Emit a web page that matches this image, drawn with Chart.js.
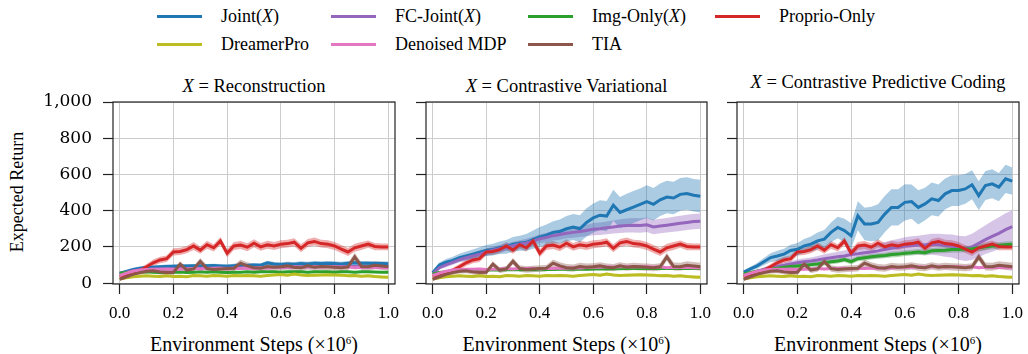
<!DOCTYPE html>
<html>
<head>
<meta charset="utf-8">
<script src="https://cdn.jsdelivr.net/npm/chart.js@4.4.1/dist/chart.umd.min.js"></script>
<style>
  html, body { margin: 0; padding: 0; background: #fff; }
  #fig { position: relative; width: 1028px; height: 354px; overflow: hidden;
         font-family: 'Liberation Serif', 'Times New Roman', Times, 'Nimbus Roman', 'DejaVu Serif', serif; color: #000; }
  #fig canvas { position: absolute; left: 0; top: 0; }
  .txt { position: absolute; white-space: nowrap; line-height: 1; transform: translate(-50%, -50%); }
  .leg-line { position: absolute; height: 3px; width: 45px; }
  .leg-txt { position: absolute; white-space: nowrap; line-height: 1; font-size: 18px; transform: translateY(-50%); }
  sup { font-size: 11px; vertical-align: 7px; line-height: 0; }
</style>
</head>
<body>
<div id="fig"></div>
<script>
// Three panels of expected return vs environment steps, one per representation X.
// Proprio-Only, DreamerPro, Denoised MDP and TIA are baselines, so the same
// curves show up in all three panels.

const SERIF = "'Liberation Serif', 'Times New Roman', Times, 'Nimbus Roman', 'DejaVu Serif', serif";

// ---------- data ----------
const X_STEPS = [0, 0.025, 0.05, 0.075, 0.1, 0.125, 0.15, 0.175, 0.2, 0.225, 0.25, 0.275, 0.3, 0.325,
  0.35, 0.375, 0.4, 0.425, 0.45, 0.475, 0.5, 0.525, 0.55, 0.575, 0.6, 0.625, 0.65, 0.675, 0.7,
  0.725, 0.75, 0.775, 0.8, 0.825, 0.85, 0.875, 0.9, 0.925, 0.95, 0.975, 1.0];
const X_TICKS = [0, 0.2, 0.4, 0.6, 0.8, 1.0];
const Y_TICKS = [0, 200, 400, 600, 800, 1000];

const PANEL_TITLES = ['<i>X</i> = Reconstruction', '<i>X</i> = Contrastive Variational', '<i>X</i> = Contrastive Predictive Coding'];
const X_TITLE = 'Environment Steps (×10<sup>6</sup>)';
const Y_TITLE = 'Expected Return';

// baselines (shared)
const PROPRIO = [35, 45, 55, 70, 90, 112, 128, 135, 172, 175, 185, 205, 182, 212, 195, 232, 165, 205, 210, 198,
  220, 200, 212, 205, 215, 218, 226, 192, 222, 230, 218, 215, 205, 188, 172, 195, 205, 215, 202, 200, 200];
const PROPRIO_SD = [8, 10, 12, 14, 16, 18, 18, 18, 20, 20, 20, 22, 20, 22, 20, 22, 22, 22, 22, 22,
  22, 22, 22, 22, 22, 22, 22, 22, 22, 22, 22, 22, 22, 22, 22, 22, 22, 20, 20, 18, 18];
const DREAMERPRO = [22, 30, 35, 38, 40, 38, 36, 40, 36, 38, 35, 42, 40, 38, 42, 40, 38, 42, 40, 42,
  40, 38, 42, 45, 48, 44, 50, 45, 42, 44, 45, 46, 45, 44, 40, 42, 38, 40, 36, 34, 32];
const DREAMERPRO_SD = [4, 5, 5, 6, 6, 6, 6, 6, 6, 6, 6, 6, 6, 6, 6, 6, 6, 6, 6, 6,
  6, 6, 6, 6, 7, 7, 7, 7, 7, 7, 7, 7, 7, 7, 7, 7, 7, 7, 7, 7, 7];
const DENOISED = [42, 55, 65, 72, 75, 76, 76, 78, 75, 77, 78, 80, 78, 80, 80, 82, 78, 82, 80, 83,
  82, 85, 84, 86, 88, 87, 90, 88, 90, 92, 89, 92, 90, 88, 90, 85, 88, 86, 88, 85, 85];
const DENOISED_SD = [5, 6, 6, 7, 7, 7, 7, 7, 7, 7, 7, 7, 7, 7, 7, 8, 8, 8, 8, 8,
  8, 8, 8, 8, 8, 8, 8, 8, 8, 8, 8, 8, 8, 8, 8, 8, 8, 8, 8, 8, 8];
const TIA = [20, 35, 48, 58, 65, 68, 62, 58, 60, 105, 72, 78, 120, 80, 75, 78, 80, 82, 110, 95,
  85, 82, 92, 88, 90, 95, 88, 85, 95, 88, 92, 90, 88, 85, 90, 145, 92, 90, 98, 95, 90];
const TIA_SD = [6, 8, 10, 12, 12, 14, 14, 14, 14, 16, 16, 16, 18, 18, 18, 18, 18, 18, 20, 20,
  20, 20, 20, 20, 20, 20, 20, 20, 20, 20, 20, 20, 20, 20, 20, 22, 22, 22, 22, 22, 22];

// X = Reconstruction
const JOINT_REC = [55, 65, 75, 82, 86, 88, 90, 92, 93, 94, 95, 96, 95, 96, 97, 95, 93, 96, 98, 97,
  100, 99, 112, 105, 103, 106, 104, 108, 106, 110, 108, 110, 108, 106, 110, 112, 110, 110, 108, 108, 107];
const JOINT_REC_SD = [6, 8, 8, 9, 9, 10, 10, 10, 10, 10, 10, 10, 10, 10, 10, 11, 11, 11, 11, 11,
  11, 11, 12, 12, 12, 12, 12, 12, 12, 12, 12, 12, 12, 12, 12, 12, 12, 12, 12, 12, 12];
const FC_REC = [50, 60, 68, 72, 75, 77, 78, 78, 79, 80, 80, 81, 82, 82, 83, 83, 82, 84, 84, 85,
  85, 86, 86, 87, 88, 88, 89, 89, 90, 90, 91, 91, 92, 92, 92, 92, 92, 92, 92, 92, 92];
const FC_REC_SD = [5, 6, 6, 6, 7, 7, 7, 7, 7, 7, 7, 7, 7, 7, 7, 7, 7, 7, 7, 7,
  8, 8, 8, 8, 8, 8, 8, 8, 8, 8, 8, 8, 8, 8, 8, 8, 8, 8, 8, 8, 8];
const IMG_REC = [55, 58, 60, 60, 62, 60, 58, 60, 60, 61, 58, 60, 62, 60, 62, 60, 58, 60, 60, 62,
  60, 62, 62, 62, 60, 63, 62, 62, 60, 62, 62, 62, 60, 62, 62, 60, 62, 62, 61, 60, 60];
const IMG_REC_SD = [5, 5, 5, 5, 5, 5, 5, 5, 5, 5, 5, 5, 5, 5, 5, 5, 5, 5, 5, 5,
  5, 5, 5, 5, 5, 5, 5, 5, 5, 5, 5, 5, 5, 5, 5, 5, 5, 5, 5, 5, 5];

// X = Contrastive Variational
const JOINT_CV = [57, 100, 115, 125, 140, 150, 160, 170, 180, 185, 195, 200, 215, 220, 225, 240, 255, 265, 280, 285,
  300, 310, 300, 335, 360, 375, 370, 430, 390, 405, 420, 435, 450, 435, 460, 475, 470, 490, 495, 485, 480];
const JOINT_CV_SD = [8, 14, 18, 20, 22, 24, 26, 28, 30, 32, 34, 38, 40, 42, 46, 50, 55, 58, 62, 66,
  70, 72, 75, 78, 80, 82, 84, 86, 86, 88, 88, 88, 90, 90, 90, 90, 90, 90, 90, 90, 90];
const FC_CV = [50, 85, 100, 115, 130, 140, 150, 160, 172, 182, 190, 198, 206, 214, 222, 232, 245, 252, 262, 268,
  275, 280, 285, 290, 298, 300, 305, 310, 315, 318, 320, 318, 322, 310, 315, 320, 325, 330, 335, 340, 342];
const FC_CV_SD = [6, 10, 12, 14, 15, 16, 17, 18, 19, 20, 20, 21, 22, 22, 23, 24, 25, 26, 27, 28,
  28, 30, 30, 32, 34, 34, 35, 36, 38, 38, 40, 40, 40, 40, 40, 40, 42, 42, 42, 42, 42];
const IMG_CV = [50, 58, 62, 65, 68, 70, 70, 71, 72, 72, 72, 73, 73, 74, 74, 75, 74, 75, 75, 76,
  76, 76, 77, 77, 78, 78, 78, 79, 79, 80, 80, 80, 80, 80, 80, 80, 80, 80, 80, 80, 80];
const IMG_CV_SD = [5, 5, 5, 5, 5, 5, 5, 5, 5, 5, 5, 5, 5, 5, 5, 5, 5, 5, 5, 5,
  5, 5, 5, 5, 5, 5, 5, 5, 5, 5, 5, 5, 5, 5, 5, 5, 5, 5, 5, 5, 5];

// X = Contrastive Predictive Coding
const JOINT_CPC = [61, 78, 95, 118, 141, 150, 160, 180, 187, 205, 215, 233, 243, 280, 307, 290, 261, 372, 326, 326,
  335, 381, 418, 418, 446, 450, 418, 437, 465, 456, 493, 511, 511, 520, 543, 483, 539, 548, 530, 576, 563];
const JOINT_CPC_SD = [8, 12, 16, 20, 24, 28, 30, 32, 34, 38, 42, 46, 50, 55, 60, 65, 70, 80, 90, 95,
  100, 100, 100, 100, 100, 95, 95, 90, 90, 88, 85, 85, 85, 82, 80, 80, 80, 80, 78, 78, 75];
const FC_CPC = [45, 55, 65, 75, 85, 92, 98, 105, 112, 118, 122, 128, 135, 140, 145, 150, 158, 162, 168, 172,
  178, 185, 192, 198, 205, 208, 210, 212, 215, 212, 208, 205, 195, 190, 200, 220, 240, 258, 275, 295, 312];
const FC_CPC_SD = [6, 8, 10, 12, 14, 15, 16, 17, 18, 19, 20, 22, 24, 26, 28, 30, 32, 34, 36, 38,
  40, 42, 44, 46, 48, 50, 52, 55, 58, 60, 62, 64, 66, 68, 72, 76, 80, 85, 88, 90, 90];
const IMG_CPC = [50, 58, 65, 72, 78, 82, 88, 92, 95, 98, 102, 106, 112, 118, 122, 130, 118, 135, 140, 145,
  150, 152, 158, 160, 165, 168, 172, 168, 178, 180, 182, 185, 186, 188, 190, 195, 200, 205, 208, 212, 215];
const IMG_CPC_SD = [6, 8, 10, 10, 12, 12, 12, 12, 12, 13, 13, 13, 14, 14, 14, 14, 15, 15, 15, 15,
  15, 15, 16, 16, 16, 16, 16, 16, 16, 17, 17, 17, 17, 17, 18, 18, 18, 18, 18, 18, 18];

// ---------- series ----------
const C = {
  blue: '31,119,180', purple: '148,103,189', green: '44,160,44', red: '214,39,40',
  olive: '188,189,34', pink: '227,119,194', brown: '140,86,75',
};

const LEGEND = [
  { name: 'Joint(<i>X</i>)', rgb: C.blue },
  { name: 'FC-Joint(<i>X</i>)', rgb: C.purple },
  { name: 'Img-Only(<i>X</i>)', rgb: C.green },
  { name: 'Proprio-Only', rgb: C.red },
  { name: 'DreamerPro', rgb: C.olive },
  { name: 'Denoised MDP', rgb: C.pink },
  { name: 'TIA', rgb: C.brown },
];

const baselines = [
  [PROPRIO, PROPRIO_SD], [DREAMERPRO, DREAMERPRO_SD], [DENOISED, DENOISED_SD], [TIA, TIA_SD],
];
const PANELS = [
  [[JOINT_REC, JOINT_REC_SD], [FC_REC, FC_REC_SD], [IMG_REC, IMG_REC_SD], ...baselines],
  [[JOINT_CV, JOINT_CV_SD], [FC_CV, FC_CV_SD], [IMG_CV, IMG_CV_SD], ...baselines],
  [[JOINT_CPC, JOINT_CPC_SD], [FC_CPC, FC_CPC_SD], [IMG_CPC, IMG_CPC_SD], ...baselines],
];

// plot-area boxes in page pixels: left, right
const BOXES = [[113, 395], [426, 707], [737, 1019]];
const TOP = 102, BOTTOM = 284, W = 1028, H = 354;

// ---------- layout text ----------
const fig = document.getElementById('fig');

function addText(html, x, y, style) {
  const d = document.createElement('div');
  d.className = 'txt';
  d.innerHTML = html;
  d.style.left = x + 'px';
  d.style.top = y + 'px';
  Object.assign(d.style, style || {});
  fig.appendChild(d);
}

const legendCols = [221, 395, 592, 779];
LEGEND.forEach((s, k) => {
  const col = legendCols[k % 4];
  const y = k < 4 ? 16 : 44;
  const line = document.createElement('div');
  line.className = 'leg-line';
  line.style.left = (col - 64) + 'px';
  line.style.top = (y - 1.5) + 'px';
  line.style.background = `rgb(${s.rgb})`;
  fig.appendChild(line);
  const t = document.createElement('div');
  t.className = 'leg-txt';
  t.innerHTML = s.name;
  t.style.left = col + 'px';
  t.style.top = y + 'px';
  fig.appendChild(t);
});

BOXES.forEach(([l, r], p) => {
  addText(PANEL_TITLES[p], (l + r) / 2, p === 2 ? 82 : 86, { fontSize: '18.5px' });
  addText(X_TITLE, (l + r) / 2, 344, { fontSize: '20px' });
});
addText(Y_TITLE, 17, 192, { fontSize: '18px', transform: 'translate(-50%, -50%) rotate(-90deg)' });

// ---------- Chart.js ----------
const framePlugin = {
  id: 'frame',
  afterDatasetsDraw(chart) {
    const { ctx, chartArea: a } = chart;
    ctx.save();
    ctx.strokeStyle = '#222';
    ctx.lineWidth = 1.2;
    ctx.strokeRect(a.left, a.top, a.right - a.left, a.bottom - a.top);
    ctx.restore();
  },
};

function toPoints(ys) {
  return X_STEPS.map((x, i) => ({ x, y: ys[i] }));
}

function buildDatasets(series) {
  const sets = [];
  series.forEach(([mean, sd], k) => {
    const rgb = LEGEND[k].rgb;
    const loIdx = sets.length;
    sets.push({
      data: toPoints(mean.map((m, i) => m - sd[i])),
      borderWidth: 0, pointRadius: 0, fill: false, order: 20,
    });
    sets.push({
      data: toPoints(mean.map((m, i) => m + sd[i])),
      borderWidth: 0, pointRadius: 0, order: 20,
      fill: { target: loIdx }, backgroundColor: `rgba(${rgb},0.38)`,
    });
  });
  series.forEach(([mean], k) => {
    sets.push({
      data: toPoints(mean),
      borderColor: `rgb(${LEGEND[k].rgb})`,
      borderWidth: 3, pointRadius: 0, fill: false, tension: 0,
      order: 10 - k,
    });
  });
  return sets;
}

function drawPanel(p) {
  const [l, r] = BOXES[p];
  const yw = p === 0 ? l : 10;
  const canvas = document.createElement('canvas');
  canvas.width = W;
  canvas.height = H;
  fig.appendChild(canvas);

  new Chart(canvas, {
    type: 'line',
    data: { datasets: buildDatasets(PANELS[p]) },
    plugins: [framePlugin],
    options: {
      responsive: false,
      animation: false,
      events: [],
      layout: { padding: { left: l - yw, right: W - r, top: TOP, bottom: 0 } },
      plugins: { legend: { display: false }, tooltip: { enabled: false } },
      scales: {
        x: {
          type: 'linear', min: -0.025, max: 1.025,
          afterBuildTicks: (s) => { s.ticks = X_TICKS.map((v) => ({ value: v })); },
          afterFit: (s) => { s.height = H - BOTTOM; s.paddingLeft = 0; s.paddingRight = 0; },
          border: { display: false },
          grid: { color: '#cccccc', lineWidth: 1, tickLength: 10, tickColor: '#222', tickWidth: 1.2 },
          ticks: {
            color: '#000', padding: 9, maxRotation: 0, autoSkip: false,
            font: { family: SERIF, size: 17 },
            callback: (v) => Number(v).toFixed(1),
          },
        },
        y: {
          min: -5, max: 1000,
          afterBuildTicks: (s) => { s.ticks = Y_TICKS.map((v) => ({ value: v })); },
          afterFit: (s) => { s.width = yw; s.paddingTop = 0; s.paddingBottom = 0; },
          border: { display: false },
          grid: { color: '#cccccc', lineWidth: 1, tickLength: 10, tickColor: '#222', tickWidth: 1.2 },
          ticks: {
            display: p === 0, color: '#000', padding: 11,
            font: { family: "'DejaVu Serif', " + SERIF, size: 17 },
            callback: (v) => Number(v).toLocaleString('en-US'),
          },
        },
      },
    },
  });
}

[0, 1, 2].forEach(drawPanel);
</script>
</body>
</html>
